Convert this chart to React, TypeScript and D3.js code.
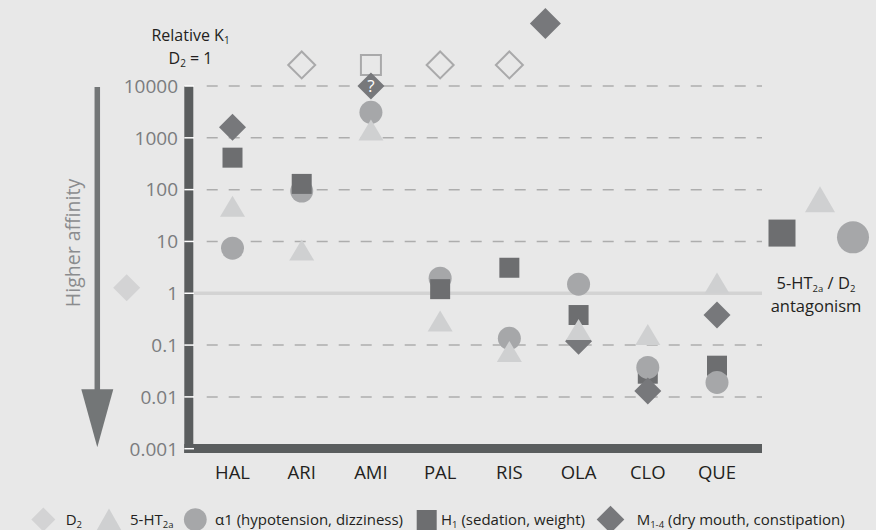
import React from "react";
import * as d3 from "d3";

const categories = ["HAL", "ARI", "AMI", "PAL", "RIS", "OLA", "CLO", "QUE"];
const ht2a = [48, 6.8, 1420, 0.29, 0.075, 0.2, 0.16, 1.58];
const alpha1 = [7.4, 94, 3100, 1.95, 0.135, 1.5, 0.037, 0.019];
const h1: (number | null)[] = [414, 129, null, 1.2, 3.1, 0.38, 0.028, 0.04];
const m14: (number | null)[] = [1600, null, 10000, null, null, 0.118, 0.013, 0.38];
const uncertainM = ["AMI"];
const circleOnTop = ["CLO", "QUE"];
const offScaleValue = 25500;
const openDiamondCats = ["ARI", "PAL", "RIS"];
const openSquareCats = ["AMI"];
const extraM = [{ cat: "RIS", value: 160000, shift: 0.52 }];
const d2Reference = 1.28;
const tickValues = [0.001, 0.01, 0.1, 1, 10, 100, 1000, 10000];
const tickLabels = ["0.001", "0.01", "0.1", "1", "10", "100", "1000", "10000"];
const ratioMarks = { h1: 14.5, ht2a: 65, alpha1: 12 };

const FONT = "'Open Sans', 'Noto Sans', sans-serif";
const BG = "#e8e8e8";
const C_D2 = "#d3d3d4";
const C_HT = "#cfd0d1";
const C_A1 = "#a6a7a9";
const C_H1 = "#6d6e70";
const C_M = "#77787b";
const C_AXIS = "#5a5d5e";
const C_TEXT = "#231f20";
const C_TICK = "#7b7c7e";

const diamond = (cx: number, cy: number, r: number) =>
  `M${cx},${cy - r}L${cx + r},${cy}L${cx},${cy + r}L${cx - r},${cy}Z`;
const triangle = (cx: number, cy: number, w: number, h: number) =>
  `M${cx},${cy - h / 2}L${cx + w / 2},${cy + h / 2}L${cx - w / 2},${cy + h / 2}Z`;
const square = (cx: number, cy: number, s: number) =>
  `M${cx - s / 2},${cy - s / 2}h${s}v${s}h${-s}Z`;

export default function App() {
  const W = 876, H = 530;
  const y = d3.scaleLog().domain([0.001, 10000]).range([448.7, 86]);
  const x = d3.scalePoint<string>().domain(categories).range([232.5, 717]);
  const step = x.step();
  const plotLeft = 193, plotRight = 762;

  const squares = categories.map((c, i) =>
    h1[i] == null ? null : <path key={"s" + c} d={square(x(c)!, y(h1[i]!), 20)} fill={C_H1} />
  );
  const circles = categories.map((c, i) => (
    <circle key={"c" + c} cx={x(c)!} cy={y(alpha1[i])} r={11.5} fill={C_A1} />
  ));

  return (
    <svg width={W} height={H} style={{ position: "absolute", left: 0, top: 0, background: BG }} fontFamily={FONT}>
      <rect width={W} height={H} fill={BG} />
      {/* grid */}
      {tickValues.filter((v) => v !== 1 && v !== 0.001).map((v) => (
        <line key={"g" + v} x1={206.7} x2={plotRight} y1={y(v)} y2={y(v)} stroke="#adadad" strokeWidth={1.5} strokeDasharray="11 11" />
      ))}
      <line x1={plotLeft} x2={plotRight} y1={y(1)} y2={y(1)} stroke="#d3d3d3" strokeWidth={3.5} />
      {/* axes */}
      <rect x={184.3} y={86} width={9} height={367} fill={C_AXIS} />
      <rect x={184.3} y={444} width={plotRight - 184.3} height={9} fill={C_AXIS} />
      {tickValues.map((v) => (
        <line key={"t" + v} x1={184.3} x2={194} y1={y(v)} y2={y(v)} stroke="#ffffff" strokeWidth={1.5} />
      ))}
      {tickValues.map((v, i) => (
        <text key={"tl" + v} x={178} y={y(v)} dy="0.36em" textAnchor="end" fontSize={19} fill={C_TICK}>
          {tickLabels[i]}
        </text>
      ))}
      {categories.map((c) => (
        <text key={"cl" + c} x={x(c)!} y={479} textAnchor="middle" fontSize={18.5} fill={C_TEXT}>
          {c}
        </text>
      ))}
      {/* title */}
      <text x={190.5} y={40.5} textAnchor="middle" fontSize={16} fill={C_TEXT}>
        Relative K<tspan fontSize={10} dy={3}>1</tspan>
      </text>
      <text x={190.5} y={63.5} textAnchor="middle" fontSize={16} fill={C_TEXT}>
        D<tspan fontSize={10} dy={3}>2</tspan><tspan dy={-3}> = 1</tspan>
      </text>
      {/* affinity arrow */}
      <line x1={97.3} x2={97.3} y1={87} y2={392} stroke="#737677" strokeWidth={5.5} />
      <path d="M81.3,389.3L113.3,389.3L97.3,447.3Z" fill="#737677" />
      <text transform="translate(80,243) rotate(-90)" textAnchor="middle" fontSize={19.5} fill="#8b8c8e">
        Higher affinity
      </text>
      {/* D2 reference */}
      <path d={diamond(126.7, y(d2Reference), 13.5)} fill={C_D2} />
      {/* off-scale markers */}
      {openDiamondCats.map((c) => (
        <path key={"od" + c} d={diamond(x(c)!, y(offScaleValue), 13.5)} fill="none" stroke="#a9a9aa" strokeWidth={2} />
      ))}
      {openSquareCats.map((c) => (
        <path key={"os" + c} d={square(x(c)!, y(offScaleValue), 20)} fill="none" stroke="#a9a9aa" strokeWidth={2} />
      ))}
      {extraM.map((m) => (
        <path key={"em" + m.cat} d={diamond(x(m.cat)! + m.shift * step, y(m.value), 15.5)} fill={C_M} />
      ))}
      {/* data marks */}
      {categories.map((c, i) => (circleOnTop.includes(c) ? null : circles[i]))}
      {squares}
      {categories.map((c, i) => (circleOnTop.includes(c) ? circles[i] : null))}
      {categories.map((c, i) =>
        m14[i] == null ? null : (
          <g key={"m" + c}>
            <path d={diamond(x(c)!, y(m14[i]!), 13.5)} fill={C_M} />
            {uncertainM.includes(c) && (
              <text x={x(c)!} y={y(m14[i]!)} dy="0.36em" textAnchor="middle" fontSize={17} fill="#ffffff">
                ?
              </text>
            )}
          </g>
        )
      )}
      {categories.map((c, i) => (
        <path key={"h" + c} d={triangle(x(c)!, y(ht2a[i]), 25, 21)} fill={C_HT} />
      ))}
      {/* ratio annotation */}
      <path d={square(782, y(ratioMarks.h1), 27)} fill={C_H1} />
      <path d={triangle(820, y(ratioMarks.ht2a), 30, 26)} fill={C_HT} />
      <circle cx={853} cy={y(ratioMarks.alpha1)} r={16} fill={C_A1} />
      <text x={816} y={289} textAnchor="middle" fontSize={16.5} fill={C_TEXT}>
        5-HT<tspan fontSize={9.5} dy={3}>2a</tspan><tspan dy={-3}> / D</tspan><tspan fontSize={9.5} dy={3}>2</tspan>
      </text>
      <text x={816} y={312} textAnchor="middle" fontSize={16.5} fill={C_TEXT}>
        antagonism
      </text>
      {/* legend */}
      <g fontSize={15} fill={C_TEXT}>
        <path d={diamond(43.3, 519.5, 12)} fill={C_D2} />
        <text x={65.7} y={525}>D<tspan fontSize={9.5} dy={3}>2</tspan></text>
        <path d={triangle(109, 519.5, 25, 22)} fill={C_HT} />
        <text x={130} y={525}>5-HT<tspan fontSize={9.5} dy={3}>2a</tspan></text>
        <circle cx={195.3} cy={519.6} r={11.4} fill={C_A1} />
        <text x={215} y={525}>α1 (hypotension, dizziness)</text>
        <path d={square(426.7, 520, 20)} fill={C_H1} />
        <text x={441} y={525}>H<tspan fontSize={9.5} dy={3}>1</tspan><tspan dy={-3}> (sedation, weight)</tspan></text>
        <path d={diamond(610.5, 519.5, 13.8)} fill={C_M} />
        <text x={636.7} y={525}>M<tspan fontSize={9.5} dy={3}>1-4</tspan><tspan dy={-3}> (dry mouth, constipation)</tspan></text>
      </g>
    </svg>
  );
}
